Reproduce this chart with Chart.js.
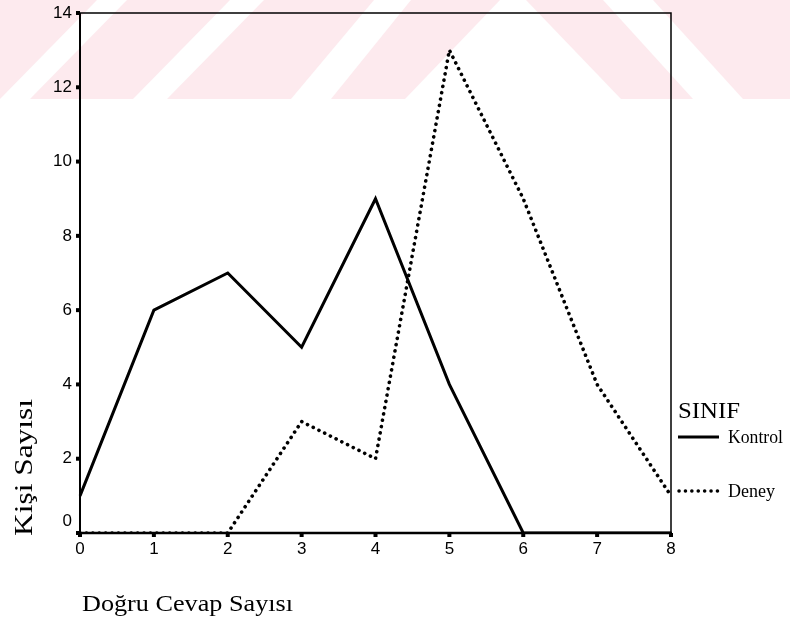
<!DOCTYPE html>
<html>
<head>
<meta charset="utf-8">
<title>Doğru Cevap Sayısı</title>
<script src="https://cdn.jsdelivr.net/npm/chart.js@4/dist/chart.umd.min.js"></script>
<style>
  html, body { margin: 0; padding: 0; background: #ffffff; }
  canvas { display: block; }
</style>
</head>
<body>
<canvas id="chart" width="790" height="622"></canvas>
<script>
// Number of correct answers (x) and number of people per group (y)
const categories = ['0', '1', '2', '3', '4', '5', '6', '7', '8'];
const kontrolValues = [1, 6, 7, 5, 9, 4, 0, 0, 0];
const deneyValues = [0, 0, 0, 3, 2, 13, 9, 4, 1];
const yTickValues = [0, 2, 4, 6, 8, 10, 12, 14];
const seriesNames = ['Kontrol', 'Deney'];
const legendTitle = 'SINIF';
const xTitle = 'Doğru Cevap Sayısı';
const yTitle = 'Kişi Sayısı';

const SANS = '"Liberation Sans", Arial, sans-serif';
const SERIF = '"Liberation Serif", "Times New Roman", serif';

// Draw text squeezed/stretched horizontally so it spans a given width
function fitText(ctx, text, x, y, width, font) {
  ctx.save();
  ctx.font = font;
  const w = ctx.measureText(text).width;
  ctx.translate(x, y);
  ctx.scale(width / w, 1);
  ctx.textAlign = 'left';
  ctx.textBaseline = 'alphabetic';
  ctx.fillText(text, 0, 0);
  ctx.restore();
}

// Light pink striped band across the top of the page
const bandPlugin = {
  id: 'band',
  beforeDraw(chart) {
    const ctx = chart.ctx;
    const H = 99;
    ctx.save();
    ctx.fillStyle = '#ffffff';
    ctx.fillRect(0, 0, chart.width, chart.height);
    ctx.beginPath();
    ctx.rect(0, 0, chart.width, H);
    ctx.clip();
    ctx.fillStyle = 'rgb(253,234,238)';
    ctx.fillRect(0, 0, chart.width, H);
    ctx.fillStyle = '#ffffff';
    const quads = [
      [[97, 0], [127, 0], [30, H], [0, H]],
      [[230, 0], [264, 0], [167, H], [133, H]],
      [[374, 0], [411, 0], [331, H], [291, H]],
      [[500, 0], [526, 0], [621, H], [405, H]],
      [[603, 0], [653, 0], [743, H], [693, H]],
      [[790, 0], [830, 0], [900, H], [860, H]]
    ];
    quads.forEach(q => {
      ctx.beginPath();
      ctx.moveTo(q[0][0], q[0][1]);
      for (let i = 1; i < q.length; i++) ctx.lineTo(q[i][0], q[i][1]);
      ctx.closePath();
      ctx.fill();
    });
    ctx.restore();
  }
};

// Frame, tick marks, tick labels, axis titles and the legend
const framePlugin = {
  id: 'frame',
  afterDraw(chart) {
    const ctx = chart.ctx;
    const xs = chart.scales.x;
    const ys = chart.scales.y;
    const a = chart.chartArea;
    ctx.save();
    ctx.strokeStyle = '#000';
    ctx.fillStyle = '#000';
    ctx.lineCap = 'butt';

    // top and right border
    ctx.lineWidth = 1.5;
    ctx.beginPath();
    ctx.moveTo(a.left, a.top);
    ctx.lineTo(a.right, a.top);
    ctx.lineTo(a.right, a.bottom);
    ctx.stroke();
    // left axis
    ctx.lineWidth = 2;
    ctx.beginPath();
    ctx.moveTo(a.left, a.top);
    ctx.lineTo(a.left, a.bottom);
    ctx.stroke();
    // bottom axis
    ctx.lineWidth = 2.5;
    ctx.beginPath();
    ctx.moveTo(a.left - 1, a.bottom);
    ctx.lineTo(a.right + 1, a.bottom);
    ctx.stroke();

    // y ticks and labels
    ctx.font = '17px ' + SANS;
    ctx.textAlign = 'right';
    ctx.textBaseline = 'middle';
    yTickValues.forEach(v => {
      const py = ys.getPixelForValue(v);
      ctx.fillRect(a.left - 4, py - 2, 4, 4);
      const ly = v === 0 ? py - 12 : py;
      ctx.fillText(String(v), a.left - 8, ly);
    });

    // x ticks and labels
    ctx.textAlign = 'center';
    ctx.textBaseline = 'middle';
    categories.forEach((c, i) => {
      const px = xs.getPixelForValue(i);
      ctx.fillRect(px - 2, a.bottom, 4, 4);
      ctx.fillText(c, px, a.bottom + 16);
    });

    // axis titles
    fitText(ctx, xTitle, a.left + 2, 611, 211, '24px ' + SERIF);
    ctx.save();
    ctx.translate(32, 536);
    ctx.rotate(-Math.PI / 2);
    fitText(ctx, yTitle, 0, 0, 137, '25px ' + SERIF);
    ctx.restore();

    // legend
    const lx = a.right + 7;
    fitText(ctx, legendTitle, lx, 418, 62, '24px ' + SERIF);
    ctx.lineWidth = 3;
    ctx.beginPath();
    ctx.moveTo(lx, 437);
    ctx.lineTo(lx + 41, 437);
    ctx.stroke();
    fitText(ctx, seriesNames[0], lx + 50, 443, 55, '18px ' + SERIF);
    ctx.lineWidth = 3.5;
    ctx.lineCap = 'round';
    ctx.setLineDash([0.1, 6.3]);
    ctx.beginPath();
    ctx.moveTo(lx + 1, 491);
    ctx.lineTo(lx + 45, 491);
    ctx.stroke();
    ctx.setLineDash([]);
    fitText(ctx, seriesNames[1], lx + 50, 497, 47, '18px ' + SERIF);
    ctx.restore();
  }
};

new Chart(document.getElementById('chart'), {
  type: 'line',
  data: {
    labels: categories,
    datasets: [
      {
        label: seriesNames[0],
        data: kontrolValues,
        borderColor: '#000',
        backgroundColor: '#000',
        borderWidth: 3,
        pointRadius: 0,
        tension: 0,
        fill: false
      },
      {
        label: seriesNames[1],
        data: deneyValues,
        borderColor: '#000',
        backgroundColor: '#000',
        borderWidth: 3.6,
        borderDash: [0.1, 6.3],
        borderCapStyle: 'round',
        pointRadius: 0,
        tension: 0,
        fill: false
      }
    ]
  },
  options: {
    responsive: false,
    animation: false,
    devicePixelRatio: 1,
    layout: { padding: { left: 80, right: 119, top: 13, bottom: 89 } },
    scales: {
      x: { type: 'category', display: false, offset: false },
      y: { type: 'linear', display: false, min: 0, max: 14 }
    },
    plugins: {
      legend: { display: false },
      tooltip: { enabled: false }
    },
    events: []
  },
  plugins: [bandPlugin, framePlugin]
});
</script>
</body>
</html>
